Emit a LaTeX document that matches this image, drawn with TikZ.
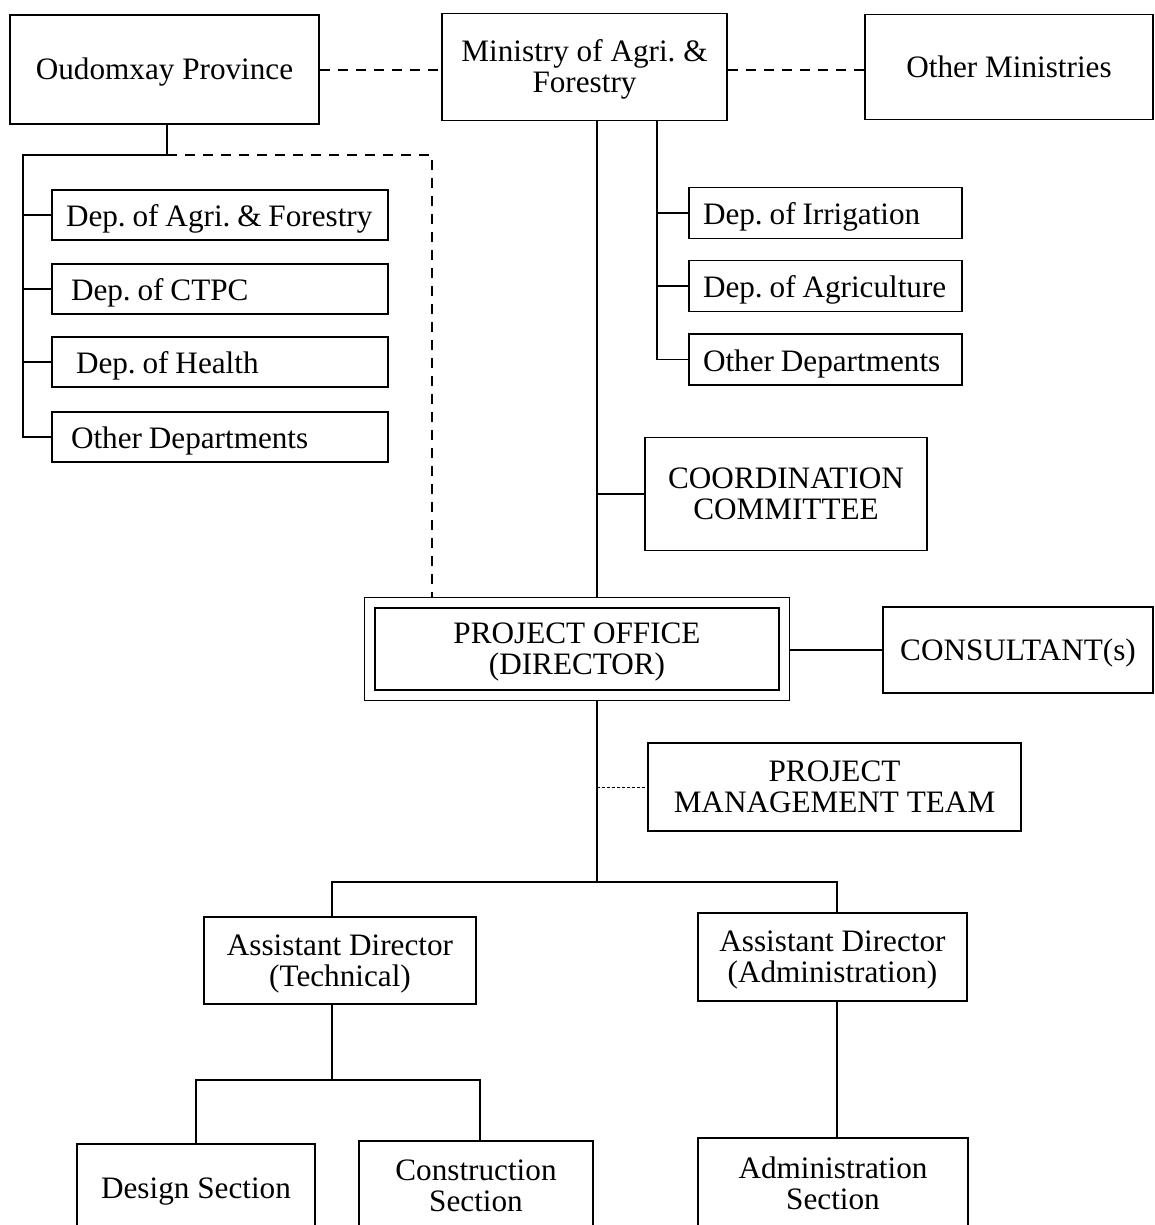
\documentclass[tikz,border=0pt]{standalone}
\usepackage{fontspec}
\setmainfont{Liberation Serif}
\usetikzlibrary{fit}
\newcommand\boxtxt[1]{\raisebox{-2pt}[\height][\depth]{\begin{tabular}{@{}c@{}}#1\end{tabular}}}
\newcommand\linetxt[1]{\raisebox{-2pt}[\height][\depth]{\spaceskip=0.22em\relax #1}}
\begin{document}
\begin{tikzpicture}[x=0.5pt,y=-0.5pt,
  every node/.style={font=\fontsize{15.6}{15.5}\selectfont\frenchspacing},
  box/.style={draw, line width=0.6pt, inner sep=0pt},
  ldept/.style={draw, line width=0.6pt, inner ysep=0pt, inner xsep=7pt, minimum height=25pt, text width=154pt, align=left},
  rdept/.style={draw, line width=0.6pt, inner ysep=0pt, inner xsep=7pt, minimum height=25.5pt, text width=122.5pt, align=left},
  conn/.style={line width=0.6pt},
  dashconn/.style={line width=0.6pt, dash pattern=on 5pt off 4pt},
  dotconn/.style={line width=0.4pt, dash pattern=on 1.5pt off 1pt}]
\clip (0,0) rectangle (1155,1225);
% top row
\node[box, minimum width=154.5pt, minimum height=54.5pt] (prov) at (164.5,69.5) {\boxtxt{Oudomxay Province}};
\node[box, minimum width=142.5pt, minimum height=53.5pt] (mafl) at (584.5,67) {\boxtxt{Ministry of Agri. \&\\Forestry}};
\node[box, minimum width=144pt, minimum height=52.5pt] (othm) at (1009,67) {\boxtxt{Other Ministries}};
% left departments
\node[ldept] (d1) at (220,215) {\linetxt{Dep. of Agri. \& Forestry}};
\node[ldept] (d2) at (220,289) {\linetxt{\hspace*{2.5pt}Dep. of CTPC}};
\node[ldept] (d3) at (220,362) {\linetxt{\hspace*{5pt}Dep. of Health}};
\node[ldept] (d4) at (220,437) {\linetxt{\hspace*{2.5pt}Other Departments}};
% right departments
\node[rdept] (r1) at (825.5,213) {\linetxt{Dep. of Irrigation}};
\node[rdept] (r2) at (825.5,286) {\linetxt{Dep. of Agriculture}};
\node[rdept] (r3) at (825.5,359.5) {\linetxt{Other Departments}};
% middle
\node[box, minimum width=141pt, minimum height=56.5pt] (coord) at (786,494) {\boxtxt{COORDINATION\\COMMITTEE}};
\node[box, minimum width=202pt, minimum height=41pt] (po) at (577,649) {\boxtxt{PROJECT OFFICE\\(DIRECTOR)}};
\node[draw, line width=0.6pt, inner sep=5pt, fit=(po)] (poout) {};
\node[box, minimum width=135pt, minimum height=43pt] (cons) at (1018,650) {\boxtxt{CONSULTANT(s)}};
\node[box, minimum width=186.5pt, minimum height=44pt] (pmt) at (834.5,787) {\boxtxt{PROJECT\\MANAGEMENT TEAM}};
% assistants
\node[box, minimum width=136pt, minimum height=43.5pt] (adt) at (340,960.5) {\boxtxt{Assistant Director\\(Technical)}};
\node[box, minimum width=134.5pt, minimum height=44pt] (ada) at (832.5,957) {\boxtxt{Assistant Director\\(Administration)}};
% sections
\node[box, minimum width=119pt, minimum height=44pt] (des) at (196,1188) {\boxtxt{Design Section}};
\node[box, minimum width=117pt, minimum height=45pt] (con) at (476,1186) {\boxtxt{Construction\\Section}};
\node[box, minimum width=135pt, minimum height=46pt] (adm) at (833,1184) {\boxtxt{Administration\\Section}};
% coordinates
\coordinate (lb) at (23,155);
\coordinate (pj) at (167,155);
\coordinate (dk) at (432,155);
\coordinate (m1) at (597,0);
\coordinate (m2) at (657,0);
\coordinate (t1) at (332,882);
\coordinate (t2) at (837,882);
\coordinate (s1) at (196,1080);
\coordinate (s2) at (480,1080);
% top dashed links
\draw[dashconn] (prov.east |- 0,70) -- (mafl.west |- 0,70);
\draw[dashconn] (mafl.east |- 0,70) -- (othm.west |- 0,70);
% province tree
\draw[conn] (prov.south -| pj) -- (pj) -- (lb) -- (lb |- d4.west) -- (d4.west);
\draw[conn] (lb |- d1.west) -- (d1.west);
\draw[conn] (lb |- d2.west) -- (d2.west);
\draw[conn] (lb |- d3.west) -- (d3.west);
\draw[dashconn] (pj) -- (dk) -- (dk |- poout.north);
% ministry tree
\draw[conn] (mafl.south -| m1) -- (poout.north -| m1);
\draw[conn] (mafl.south -| m2) -- (m2 |- r3.west) -- (r3.west);
\draw[conn] (m2 |- r1.west) -- (r1.west);
\draw[conn] (m2 |- r2.west) -- (r2.west);
\draw[conn] (m1 |- coord.west) -- (coord.west);
% project office
\draw[conn] (poout.east |- cons.west) -- (cons.west);
\draw[conn] (poout.south -| m1) -- (m1 |- t1);
\draw[dotconn] (m1 |- pmt.west) -- (pmt.west);
\draw[conn] (t1 |- adt.north) -- (t1) -- (t2) -- (t2 |- ada.north);
% sections
\draw[conn] (adt.south -| t1) -- (t1 |- s1);
\draw[conn] (des.north -| s1) -- (s1) -- (s2) -- (s2 |- con.north);
\draw[conn] (ada.south -| t2) -- (t2 |- adm.north);
\end{tikzpicture}
\end{document}
